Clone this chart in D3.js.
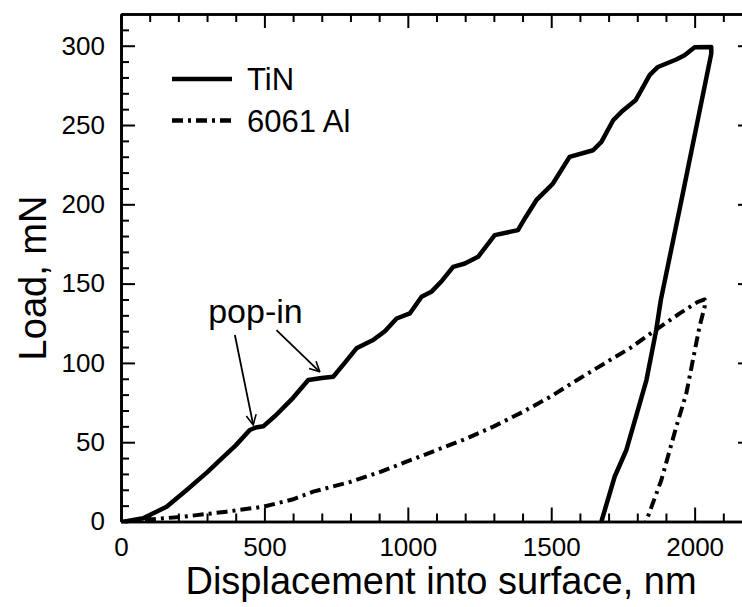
<!DOCTYPE html>
<html>
<head>
<meta charset="utf-8">
<script src="https://cdn.jsdelivr.net/npm/d3@7"></script>
<style>
  body { margin: 0; background: #fff; }
  svg text { font-family: "Liberation Sans", Arial, sans-serif; }
  .axis path, .axis line { fill: none; stroke: #000; }
  .line { fill: none; stroke: #000; stroke-linejoin: round; }
</style>
</head>
<body>
<div id="container"></div>
<script>
// TiN load/unload curve (displacement nm, load mN)
const tinX = [14, 77, 159, 229, 300, 345, 400, 449, 470, 496, 540, 600, 653, 700, 740, 780, 821, 879, 920, 961, 1007, 1048, 1082, 1120, 1158, 1199, 1245, 1303, 1384, 1408, 1448, 1506, 1564, 1646, 1675, 1716, 1745, 1794, 1814, 1843, 1872, 1936, 1965, 2000, 2058, 2058, 1954, 1882, 1866, 1832, 1802, 1762, 1721, 1675];
const tinY = [0, 2, 9.3, 19.9, 31, 38.7, 48, 57.7, 59.3, 60, 67, 78, 89.2, 90.5, 91.3, 100, 109.2, 114.4, 120, 128, 131.2, 141.7, 144.8, 152, 160.6, 162.7, 166.9, 180.6, 183.7, 191.1, 202.6, 213.1, 229.9, 234.1, 239.4, 253, 258.3, 265.6, 272, 281.4, 286.6, 291.3, 294, 299, 299.2, 295, 202.6, 139.6, 120.7, 89.2, 70.3, 45.1, 28.2, 0];

// 6061 Al load/unload curve
const alX = [0, 77, 217, 368, 496, 600, 670, 800, 900, 1000, 1100, 1200, 1300, 1400, 1500, 1599, 1715, 1774, 1855, 1948, 2011, 2035, 2035, 2017, 1971, 1936, 1884, 1837, 1830];
const alY = [0, 1, 3, 6.2, 9.3, 14, 18.8, 25, 31, 38, 45, 52, 60, 69, 79, 90.2, 102.9, 109.2, 119.6, 131.2, 138.5, 140, 135.4, 122.8, 80.8, 59.7, 26.2, 3, 0];

const xTicks = [0, 500, 1000, 1500, 2000];
const yTicks = [0, 50, 100, 150, 200, 250, 300];
const seriesNames = ["TiN", "6061 Al"];

const margin = {top: 14, left: 121};
const width = 631, height = 507.5;
const FONT = "Liberation Sans, Arial, sans-serif";

const x = d3.scaleLinear().domain([0, 2200]).range([0, width]);
const y = d3.scaleLinear().domain([0, 320]).range([height, 0]);

const svg = d3.select("#container").append("svg")
  .attr("width", 742).attr("height", 607);
const g = svg.append("g")
  .attr("transform", "translate(" + margin.left + "," + margin.top + ")");

const minorX = d3.range(0, 2201, 100).filter(d => d % 500 !== 0);
const minorY = d3.range(0, 321, 10).filter(d => d % 50 !== 0);

function axisStyle(sel) {
  sel.attr("font-family", FONT);
  sel.select(".domain").attr("stroke-width", 2.6);
  sel.selectAll(".tick line").attr("stroke-width", 2);
}

// bottom
g.append("g").attr("class", "axis").attr("transform", "translate(0," + height + ")")
  .call(d3.axisBottom(x).tickValues(xTicks).tickSize(-14).tickPadding(10).tickSizeOuter(0).tickFormat(d3.format("d")))
  .call(axisStyle)
  .call(s => s.selectAll("text").attr("font-size", 26).attr("dy", "0.95em"));
g.append("g").attr("class", "axis").attr("transform", "translate(0," + height + ")")
  .call(d3.axisBottom(x).tickValues(minorX).tickSize(-8).tickFormat("").tickSizeOuter(0))
  .call(axisStyle);
// top
g.append("g").attr("class", "axis")
  .call(d3.axisTop(x).tickValues(xTicks).tickSize(-14).tickFormat("").tickSizeOuter(0))
  .call(axisStyle);
g.append("g").attr("class", "axis")
  .call(d3.axisTop(x).tickValues(minorX).tickSize(-8).tickFormat("").tickSizeOuter(0))
  .call(axisStyle);
// left
g.append("g").attr("class", "axis")
  .call(d3.axisLeft(y).tickValues(yTicks).tickSize(-14).tickPadding(16).tickSizeOuter(0).tickFormat(d3.format("d")))
  .call(axisStyle)
  .call(s => s.selectAll("text").attr("font-size", 26));
g.append("g").attr("class", "axis")
  .call(d3.axisLeft(y).tickValues(minorY).tickSize(-8).tickFormat("").tickSizeOuter(0))
  .call(axisStyle);
// right
g.append("g").attr("class", "axis").attr("transform", "translate(" + width + ",0)")
  .call(d3.axisRight(y).tickValues(yTicks).tickSize(-14).tickFormat("").tickSizeOuter(0))
  .call(axisStyle);
g.append("g").attr("class", "axis").attr("transform", "translate(" + width + ",0)")
  .call(d3.axisRight(y).tickValues(minorY).tickSize(-8).tickFormat("").tickSizeOuter(0))
  .call(axisStyle);

const line = d3.line().x(d => x(d[0])).y(d => y(d[1]));

g.append("path").attr("class", "line")
  .datum(d3.zip(alX, alY))
  .attr("stroke-width", 4)
  .attr("stroke-dasharray", "11,5,3,5")
  .attr("d", line);

g.append("path").attr("class", "line")
  .datum(d3.zip(tinX, tinY))
  .attr("stroke-width", 4.5)
  .attr("d", line);

// legend
const legend = svg.append("g").attr("font-family", FONT);
[0, 1].forEach(i => {
  const ly = 79 + i * 41.5;
  legend.append("line")
    .attr("x1", 172).attr("x2", 232).attr("y1", ly).attr("y2", ly)
    .attr("stroke", "#000").attr("stroke-width", 4.5)
    .attr("stroke-dasharray", i === 1 ? "11,5,3,5" : null);
  legend.append("text")
    .attr("x", 247).attr("y", ly + 11)
    .attr("font-size", 31)
    .text(seriesNames[i]);
});

// pop-in annotation
svg.append("defs").append("marker")
  .attr("id", "arrow").attr("viewBox", "0 0 12 12")
  .attr("refX", 11).attr("refY", 6)
  .attr("markerWidth", 12).attr("markerHeight", 12)
  .attr("markerUnits", "userSpaceOnUse")
  .attr("orient", "auto")
  .append("path").attr("d", "M1,1 L11,6 L1,11")
  .attr("fill", "none").attr("stroke", "#000").attr("stroke-width", 1.6);

g.append("text")
  .attr("x", x(304)).attr("y", y(125.1))
  .attr("font-size", 34)
  .text("pop-in");

const arrows = [[[397, 117.6], [461, 60.9]], [[542, 120.7], [693, 94.4]]];
arrows.forEach(a => {
  g.append("line")
    .attr("x1", x(a[0][0])).attr("y1", y(a[0][1]))
    .attr("x2", x(a[1][0])).attr("y2", y(a[1][1]))
    .attr("stroke", "#000").attr("stroke-width", 1.8)
    .attr("marker-end", "url(#arrow)");
});

// axis titles
svg.append("text")
  .attr("x", 441).attr("y", 594)
  .attr("text-anchor", "middle").attr("font-size", 38)
  .text("Displacement into surface, nm");

svg.append("text")
  .attr("transform", "translate(46,278) rotate(-90)")
  .attr("text-anchor", "middle").attr("font-size", 38)
  .text("Load, mN");
</script>
</body>
</html>
